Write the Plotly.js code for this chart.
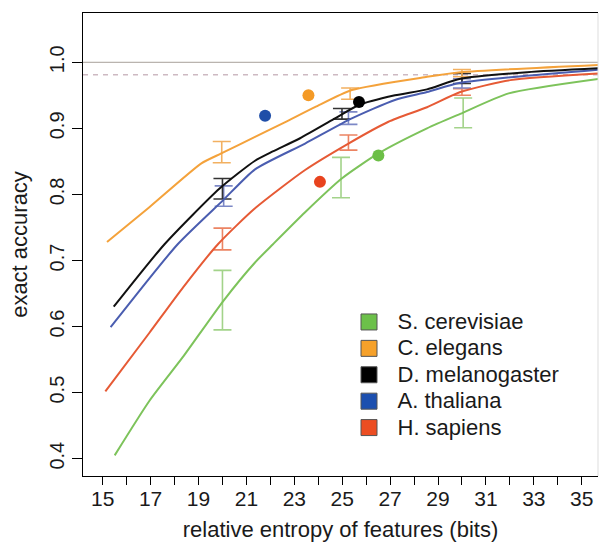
<!DOCTYPE html>
<html><head><meta charset="utf-8">
<script src="https://cdn.plot.ly/plotly-3.0.1.min.js"></script>
<style>html,body{margin:0;padding:0;background:#fff}#chart{width:599px;height:549px}</style>
</head><body><div id="chart"></div>
<script>
// ---- data ----
const species = ['S. cerevisiae', 'C. elegans', 'D. melanogaster', 'A. thaliana', 'H. sapiens'];

// accuracy curves (relative entropy in bits, exact accuracy)
const scerX = [15.50, 16.96, 18.35, 20.04, 21.36, 22.12, 23.45, 24.98, 26.51, 28.54, 29.93, 31.95, 35.72];
const scerY = [0.405, 0.488, 0.554, 0.639, 0.697, 0.725, 0.773, 0.824, 0.862, 0.900, 0.922, 0.953, 0.975];
const celeX = [15.18, 16.96, 19.12, 19.95, 21.36, 22.60, 23.86, 25.40, 28.54, 29.93, 35.72];
const celeY = [0.728, 0.781, 0.847, 0.862, 0.887, 0.909, 0.932, 0.958, 0.978, 0.985, 0.996];
const dmelX = [15.46, 17.59, 19.88, 21.36, 22.10, 23.24, 24.70, 25.67, 27.20, 28.54, 29.93, 32.72, 35.72];
const dmelY = [0.630, 0.725, 0.809, 0.851, 0.865, 0.885, 0.915, 0.935, 0.950, 0.959, 0.975, 0.985, 0.991];
const athaX = [15.33, 18.14, 20.02, 21.36, 23.45, 25.40, 27.20, 28.54, 29.93, 35.72];
const athaY = [0.599, 0.725, 0.791, 0.838, 0.877, 0.915, 0.943, 0.955, 0.969, 0.989];
const hsapX = [15.11, 16.96, 18.35, 19.82, 21.36, 23.45, 25.26, 26.93, 28.54, 29.93, 32.02, 35.72];
const hsapY = [0.502, 0.591, 0.659, 0.725, 0.779, 0.837, 0.877, 0.910, 0.932, 0.955, 0.973, 0.983];

// error bars: x, lower, upper
const scerEbX = [20.00, 24.95, 30.05], scerEbLo = [0.595, 0.795, 0.901], scerEbHi = [0.685, 0.856, 0.946];
const celeEbX = [19.97, 25.33, 30.00], celeEbLo = [0.848, 0.944, 0.978], celeEbHi = [0.880, 0.961, 0.989];
const dmelEbX = [20.00, 24.99, 30.00], dmelEbLo = [0.793, 0.914, 0.968], dmelEbHi = [0.824, 0.930, 0.983];
const athaEbX = [20.05, 25.26, 30.00], athaEbLo = [0.782, 0.906, 0.961], athaEbHi = [0.813, 0.925, 0.975];
const hsapEbX = [20.00, 25.26, 30.00], hsapEbLo = [0.716, 0.867, 0.950], hsapEbHi = [0.749, 0.890, 0.960];

// single points (one per species, same order as species)
const dotX = [26.51, 23.59, 25.70, 21.78, 24.07];
const dotY = [0.859, 0.950, 0.940, 0.919, 0.819];

// reference lines
const refSolid = [1.0];
const refDashed = [0.981];

// ticks
const xTickVals = [15,16,17,18,19,20,21,22,23,24,25,26,27,28,29,30,31,32,33,34,35];
const xTickText = ['15','','17','','19','','21','','23','','25','','27','','29','','31','','33','','35'];
const yTickVals = [0.4, 0.5, 0.6, 0.7, 0.8, 0.9, 1.0];
const yTickText = ['0.4','0.5','0.6','0.7','0.8','0.9','1.0'];

// ---- styles ----
const lineColors = ['#7DC35B', '#F4A23B', '#111111', '#4A5DB0', '#E65A35'];
const ebColors   = ['#A3D38A', '#F2B060', '#333333', '#7C88C6', '#EC8463'];
const dotColors  = ['#6CBF47', '#F49A26', '#000000', '#1F4EA8', '#E8431E'];
const legColors  = ['#6CC04A', '#F6A12A', '#000000', '#1C4FAF', '#EC4D22'];

const curves = [[scerX, scerY], [celeX, celeY], [dmelX, dmelY], [athaX, athaY], [hsapX, hsapY]];
const ebs = [[scerEbX, scerEbLo, scerEbHi], [celeEbX, celeEbLo, celeEbHi], [dmelEbX, dmelEbLo, dmelEbHi],
             [athaEbX, athaEbLo, athaEbHi], [hsapEbX, hsapEbLo, hsapEbHi]];
const drawOrder = [0, 4, 3, 2, 1];

const traces = [];
drawOrder.forEach(i => {
  const [ex, lo, hi] = ebs[i];
  const mid = lo.map((l, k) => (l + hi[k]) / 2);
  traces.push({
    x: ex, y: mid, type: 'scatter', mode: 'markers', marker: {size: 0.1, color: 'rgba(0,0,0,0)'},
    error_y: {type: 'data', symmetric: false, array: hi.map((h, k) => h - mid[k]),
              arrayminus: mid.map((m, k) => m - lo[k]), color: ebColors[i], thickness: 1.6, width: 9},
    showlegend: false, hoverinfo: 'skip'
  });
});
drawOrder.forEach(i => {
  traces.push({
    x: curves[i][0], y: curves[i][1], type: 'scatter', mode: 'lines',
    line: {color: lineColors[i], width: 2, shape: 'spline', smoothing: 0.6},
    showlegend: false, hoverinfo: 'skip'
  });
});
traces.push({
  x: dotX, y: dotY, type: 'scatter', mode: 'markers',
  marker: {size: 12, color: dotColors}, showlegend: false, hoverinfo: 'skip'
});
// legend entries
species.forEach((s, i) => {
  traces.push({
    x: [null], y: [null], type: 'scatter', mode: 'markers', name: '<span style="font-size:22px">' + s + '</span>',
    marker: {symbol: 'square', size: 16, color: legColors[i], line: {color: '#555555', width: 1}},
    showlegend: true
  });
});

const fontFam = 'Liberation Sans, Arial, Helvetica, sans-serif';
const layout = {
  width: 599, height: 549,
  margin: {l: 83, r: 1, t: 13, b: 73},
  paper_bgcolor: '#ffffff', plot_bgcolor: '#ffffff',
  font: {family: fontFam, color: '#1a1a1a', size: 21},
  showlegend: true,
  legend: {x: 0.5, xanchor: 'left', y: 0.372, yanchor: 'top', bgcolor: 'rgba(0,0,0,0)',
           font: {size: 18, family: fontFam, color: '#1a1a1a'}, itemwidth: 47, tracegroupgap: 0},
  xaxis: {
    range: [14.177, 35.68], showgrid: false, zeroline: false,
    showline: true, linecolor: '#000', linewidth: 1.2, mirror: true,
    ticks: 'outside', ticklen: 8, tickwidth: 1, tickcolor: '#000',
    tickmode: 'array', tickvals: xTickVals, ticktext: xTickText, ticklabelstandoff: -4,
    tickfont: {size: 21, family: fontFam, color: '#1a1a1a'},
    title: {text: 'relative entropy of features (bits)', font: {size: 22, family: fontFam, color: '#1a1a1a'}, standoff: 12}
  },
  yaxis: {
    range: [0.3738, 1.0746], showgrid: false, zeroline: false,
    showline: true, linecolor: '#000', linewidth: 1.2,
    ticks: 'outside', ticklen: 10, tickwidth: 1, tickcolor: '#000',
    tickmode: 'array', tickvals: yTickVals, ticktext: yTickText, tickangle: -90,
    tickfont: {size: 20, family: fontFam, color: '#1a1a1a'},
    title: {text: 'exact accuracy', font: {size: 22, family: fontFam, color: '#1a1a1a'}, standoff: 12}
  },
  shapes: [
    {type: 'line', xref: 'paper', x0: 0, x1: 1, yref: 'y', y0: refSolid[0], y1: refSolid[0],
     line: {color: '#A8A09A', width: 1}, layer: 'below'},
    {type: 'line', xref: 'paper', x0: 0, x1: 1, yref: 'y', y0: refDashed[0], y1: refDashed[0],
     line: {color: '#CDB9C2', width: 1.5, dash: '5px,5px'}, layer: 'below'},
    {type: 'line', xref: 'paper', x0: 1, x1: 1, yref: 'paper', y0: 0, y1: 1,
     line: {color: '#dddddd', width: 1}}
  ]
};

Plotly.newPlot('chart', traces, layout, {staticPlot: true, displayModeBar: false});
</script>
</body></html>
